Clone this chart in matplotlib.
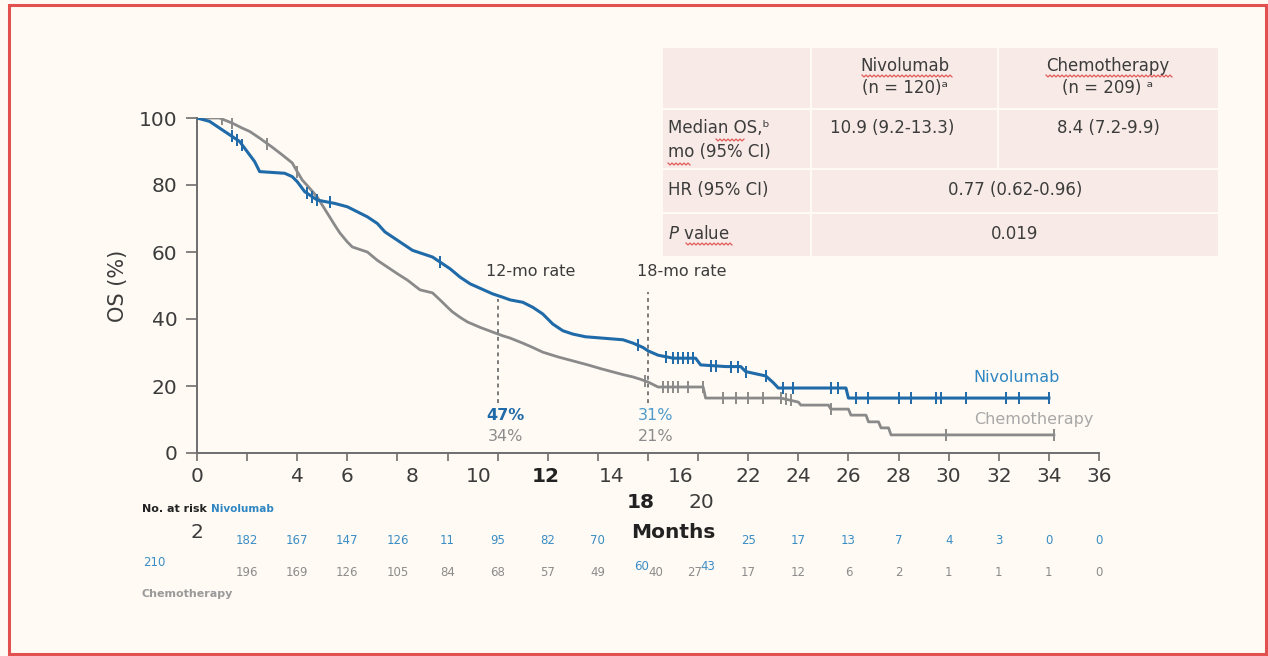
import numpy as np
import matplotlib
matplotlib.use("Agg")
import matplotlib.pyplot as plt
import matplotlib.transforms as mtransforms
from matplotlib.patches import Rectangle
from matplotlib.lines import Line2D

plt.rcParams['font.family'] = ['DejaVu Sans']
plt.rcParams['mathtext.fontset'] = 'dejavusans'

# OS curves (months, OS %), points along each curve incl. plateau ends
niv_t = [0, 0.5, 0.7, 1.0, 1.3, 1.7, 2.0, 2.3, 2.5, 3.5, 3.8, 4.0, 4.3, 4.5, 4.8, 5.5,
         6.0, 6.4, 6.8, 7.2, 7.5, 7.8, 8.2, 8.6, 9.0, 9.4, 9.8, 10.1, 10.5, 10.9, 11.2,
         11.8, 12.2, 12.5, 13.0, 13.4, 13.8, 14.2, 14.6, 15.0, 15.5, 17.0, 17.4, 17.8,
         18.0, 18.4, 19.0, 19.9, 20.1, 21.1, 21.7, 21.9, 22.7, 23.0, 23.2, 25.9, 26.0, 34.0]
niv_s = [100, 99, 98, 96.5, 95, 93, 90, 87, 84, 83.5, 82.5, 81, 78, 77, 75.5, 74.5,
         73.5, 72, 70.5, 68.5, 66, 64.5, 62.5, 60.5, 59.5, 58.5, 56.5, 55, 52.5, 50.5, 49.5,
         47.5, 46.5, 45.7, 45, 43.5, 41.5, 38.5, 36.5, 35.5, 34.7, 33.8, 32.8, 31.5,
         30.5, 29.2, 28.3, 28.3, 26.3, 25.8, 25.8, 24.3, 23.0, 21.0, 19.4, 19.4, 16.4, 16.4]

chemo_t = [0, 0.9, 1.4, 1.8, 2.1, 2.5, 3.0, 3.4, 3.8, 4.0, 4.2, 4.5, 4.8, 5.0, 5.2, 5.5,
           5.7, 6.0, 6.2, 6.8, 7.2, 7.6, 8.0, 8.4, 8.9, 9.4, 9.7, 10.0, 10.2, 10.5, 10.8,
           11.3, 11.8, 12.2, 12.5, 13.0, 13.4, 13.8, 14.4, 15.0, 15.6, 16.1, 16.6, 17.0,
           17.4, 17.7, 18.0, 18.4, 20.2, 20.3, 23.3, 24.0, 24.1, 25.2, 25.3, 26.0, 26.1,
           26.7, 26.8, 27.2, 27.3, 27.6, 27.7, 34.2]
chemo_s = [100, 100, 98.5, 97, 96, 94, 91.3, 89, 86.6, 84, 81.5, 79, 76.4, 74, 71.6, 68,
           65.7, 63, 61.5, 60, 57.5, 55.5, 53.5, 51.6, 48.7, 47.8, 45.7, 43.5, 42.1, 40.5, 39.1,
           37.5, 36.1, 35, 34.3, 32.8, 31.5, 30.1, 28.7, 27.5, 26.3, 25.2, 24.2, 23.4,
           22.7, 22.0, 21.2, 19.7, 19.7, 16.4, 16.4, 15.2, 14.3, 14.3, 13.1, 13.1, 11.3,
           11.3, 9.3, 9.3, 7.5, 7.5, 5.4, 5.4]

niv_cens = [1.4, 1.6, 1.8, 4.4, 4.6, 4.8, 5.3, 9.7, 17.6, 18.7, 19.0, 19.2, 19.4, 19.6,
            19.8, 20.5, 20.7, 21.3, 21.6, 21.9, 22.7, 23.4, 23.8, 25.3, 25.6, 26.3, 26.8,
            28.0, 28.5, 29.5, 29.7, 30.7, 32.3, 32.8, 34.0]
chemo_cens = [1.0, 1.4, 2.8, 4.0, 17.9, 18.6, 18.8, 19.0, 19.2, 19.6, 20.2, 21.0, 21.5,
              22.0, 22.6, 23.3, 23.5, 23.7, 25.3, 29.9, 34.2]

rate_months = [12, 18]
niv_rates = ["47%", "31%"]
chemo_rates = ["34%", "21%"]

# number at risk, as printed under the axis
risk_months = list(range(2, 38, 2))
niv_risk = ["182", "167", "147", "126", "11", "95", "82", "70", "", "",
            "25", "17", "13", "7", "4", "3", "0", "0"]
chemo_risk = ["196", "169", "126", "105", "84", "68", "57", "49", "", "",
              "17", "12", "6", "2", "1", "1", "1", "0"]

table_head = ["Nivolumab\n(n = 120)ᵃ", "Chemotherapy\n(n = 209) ᵃ"]
median_os = ["10.9 (9.2-13.3)", "8.4 (7.2-9.9)"]
hazard_ratio = "0.77 (0.62-0.96)"
p_value = "0.019"

BLUE = "#1f6aa8"
GRAY = "#8a8a8a"
TXT = "#3c3c3c"
BG = "#fffaf4"

fig = plt.figure(figsize=(12.68, 6.56), dpi=100, facecolor=BG)
# pixel coordinates measured from the top-left corner
px = mtransforms.Affine2D().scale(1 / 100, -1 / 100).translate(0, 6.56) + fig.dpi_scale_trans

fig.patches.append(Rectangle((9, 5), 1257, 649, transform=px, fill=False,
                             edgecolor="#e2504f", linewidth=2.2))

ax = fig.add_axes([197 / 1268, 1 - 453 / 656, 902 / 1268, 335 / 656])
ax.set_facecolor(BG)

ax.plot(chemo_t, chemo_s, color=GRAY, lw=2.0, zorder=3)
ax.plot(niv_t, niv_s, color=BLUE, lw=2.2, zorder=4)
ax.plot(chemo_cens, np.interp(chemo_cens, chemo_t, chemo_s), ls="none", marker="|",
        ms=8, mew=1.4, color=GRAY, zorder=3)
ax.plot(niv_cens, np.interp(niv_cens, niv_t, niv_s), ls="none", marker="|",
        ms=8, mew=1.4, color=BLUE, zorder=4)

ax.set_xlim(0, 36)
ax.set_ylim(0, 100)
ax.set_yticks(range(0, 101, 20))
ax.set_xticks(range(0, 37, 2))
shown = {0: "0", 4: "4", 6: "6", 22: "22", 24: "24", 26: "26", 28: "28", 30: "30",
         32: "32", 34: "34", 36: "36"}
ax.set_xticklabels([shown.get(v, "") for v in range(0, 37, 2)])
for s in ["top", "right"]:
    ax.spines[s].set_visible(False)
for s in ["left", "bottom"]:
    ax.spines[s].set_color("#6e6e6e")
    ax.spines[s].set_linewidth(1.4)
ax.tick_params(axis="both", colors="#6e6e6e", labelcolor=TXT, labelsize=14.5,
               width=1.2)
ax.tick_params(axis="y", length=8, pad=6)
ax.tick_params(axis="x", length=6, pad=4)
ax.set_ylabel("OS (%)", fontsize=15, color=TXT, labelpad=8)

# stray month labels below the axis
xt = mtransforms.blended_transform_factory(ax.transData, px)
stray = [("8", 8.6, 476, "normal"), ("10", 11.25, 476, "normal"), ("12", 13.9, 476, "bold"),
         ("14", 16.55, 476, "normal"), ("16", 19.3, 476, "normal"),
         ("18", 17.7, 503, "bold"), ("20", 20.15, 503, "normal"), ("2", 0, 532, "normal")]
for lab, xm, yp, w in stray:
    ax.text(xm, yp, lab, transform=xt, ha="center", va="center", fontsize=14.5,
            color="#222222" if w == "bold" else TXT, fontweight=w)
ax.text(19.0, 532, "Months", transform=xt, ha="center", va="center", fontsize=14.5,
        fontweight="bold", color="#222222")

# 12- and 18-month rates
for m, nr, cr in zip(rate_months, niv_rates, chemo_rates):
    top = np.interp(m, niv_t, niv_s) - 1 if m == 12 else 48
    ax.plot([m, m], [15, top], ls=(0, (2, 2)), color="#7a7a7a", lw=1.4, zorder=2)
    ax.text(m - 0.45, 52, f"{m}-mo rate", ha="left", va="bottom", fontsize=11.5, color=TXT)
    ax.text(m + 0.3, 11.3, nr, ha="center", va="center", fontsize=11.5,
            color=BLUE if m == 12 else "#4d9bcb", fontweight="bold" if m == 12 else "normal")
    ax.text(m + 0.3, 4.8, cr, ha="center", va="center", fontsize=11.5, color="#8c8c8c")

ax.text(32.7, 22.4, "Nivolumab", ha="center", va="center", fontsize=11.5, color="#2f86c3")
ax.text(33.4, 10.0, "Chemotherapy", ha="center", va="center", fontsize=11.5, color="#a8a8a8")

# number at risk
fig.text(142, 509, "No. at risk", transform=px, fontsize=8, fontweight="bold",
         color="#222222", va="center")
fig.text(211, 509, "Nivolumab", transform=px, fontsize=7.5, fontweight="bold",
         color="#2f86c3", va="center")
fig.text(142, 594, "Chemotherapy", transform=px, fontsize=8, fontweight="bold",
         color="#9a9a9a", va="center")
for m, nv, cv in zip(risk_months, niv_risk, chemo_risk):
    ax.text(m, 541, nv, transform=xt, ha="center", va="center", fontsize=8.5,
            color="#3a8dc4")
    ax.text(m, 573, cv, transform=xt, ha="center", va="center", fontsize=8.5,
            color="#8c8c8c")
ax.text(-1.7, 562, "210", transform=xt, ha="center", va="center", fontsize=8.5,
        color="#3a8dc4")
for lab, xm, yp, col in [("60", 17.75, 566, "#3a8dc4"), ("40", 18.3, 573, "#8c8c8c"),
                         ("27", 19.85, 573, "#8c8c8c"), ("43", 20.4, 566, "#3a8dc4")]:
    ax.text(xm, yp, lab, transform=xt, ha="center", va="center", fontsize=8.5, color=col)

# summary table, top right
CELL = "#f8ebe7"
cells = [(663, 48, 147, 60), (812, 48, 185, 60), (999, 48, 219, 60),
         (663, 110, 147, 58), (812, 110, 185, 58), (999, 110, 219, 58),
         (663, 170, 147, 42), (812, 170, 406, 42),
         (663, 214, 147, 42), (812, 214, 406, 42)]
for x0, y0, w, h in cells:
    fig.patches.append(Rectangle((x0, y0 + h), w, -h, transform=px, facecolor=CELL,
                                 edgecolor="none"))
tk = dict(transform=px, fontsize=12, color=TXT, va="center")
fig.text(905, 77, table_head[0], ha="center", linespacing=1.35, **tk)
fig.text(1108, 77, table_head[1], ha="center", linespacing=1.35, **tk)
fig.text(668, 140, "Median OS,ᵇ\nmo (95% CI)", ha="left", linespacing=1.45, **tk)
fig.text(892, 128, median_os[0], ha="center", **tk)
fig.text(1108, 128, median_os[1], ha="center", **tk)
fig.text(668, 190, "HR (95% CI)", ha="left", **tk)
fig.text(1015, 190, hazard_ratio, ha="center", **tk)
fig.text(668, 234, r"$\mathit{P}$ value", ha="left", **tk)
fig.text(1015, 234, p_value, ha="center", **tk)


def squiggle(x0, x1, y):
    xs = np.arange(x0, x1 + 1, 2.0)
    ys = y + np.where(np.arange(len(xs)) % 2 == 0, -1.0, 1.0)
    fig.lines.append(Line2D(xs, ys, transform=px, color="#e05a5a", lw=0.9))


for x0, x1, y in [(862, 952, 76), (1046, 1172, 76), (716, 744, 140), (668, 690, 164),
                  (686, 732, 244)]:
    squiggle(x0, x1, y)

fig.savefig("out.png", dpi=100, facecolor=BG)
